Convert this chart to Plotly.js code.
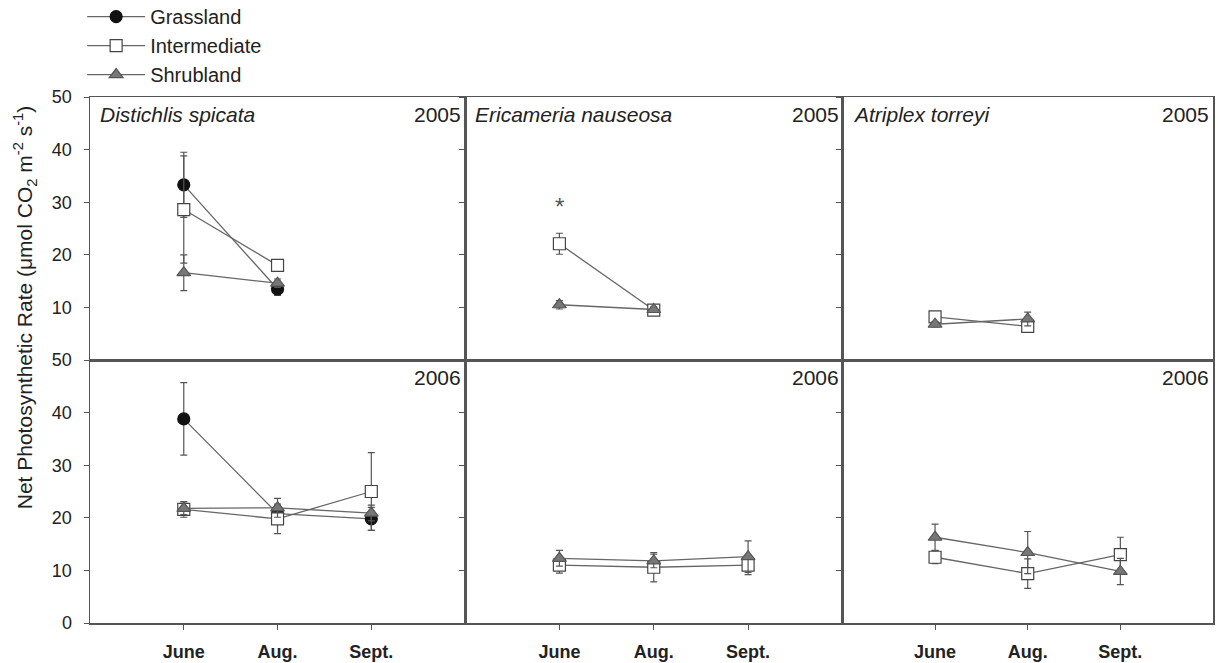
<!DOCTYPE html>
<html>
<head>
<meta charset="utf-8">
<script src="https://cdn.plot.ly/plotly-3.0.1.min.js"></script>
<style>body{margin:0;background:#fff;} #chart{width:1218px;height:663px;}</style>
</head>
<body>
<div id="chart"></div>
<script>
// ---- Data ----
const months = ['June', 'Aug.', 'Sept.'];
const groups = ['Grassland', 'Intermediate', 'Shrubland'];
const species = ['Distichlis spicata', 'Ericameria nauseosa', 'Atriplex torreyi'];
const years = ['2005', '2006'];

// 2005 (June, Aug.)
const dist05Grass = [33.3, 13.5];
const dist05GrassErr = [6.2, 1.2];
const dist05Inter = [28.6, 18.0];
const dist05InterErr = [10.2, 1.0];
const dist05Shrub = [16.6, 14.6];
const dist05ShrubErr = [3.4, 0.8];

const eric05Inter = [22.1, 9.5];
const eric05InterErr = [2.0, 0.5];
const eric05Shrub = [10.5, 9.6];
const eric05ShrubErr = [0.8, 0.5];

const atri05Inter = [8.2, 6.4];
const atri05InterErr = [0.5, 0.9];
const atri05Shrub = [6.8, 7.8];
const atri05ShrubErr = [0.5, 1.3];

// 2006 (June, Aug., Sept.)
const dist06Grass = [38.8, 20.8, 19.8];
const dist06GrassErr = [6.9, 1.5, 2.2];
const dist06Inter = [21.6, 19.8, 25.0];
const dist06InterErr = [1.5, 2.8, 7.4];
const dist06Shrub = [21.8, 21.9, 20.9];
const dist06ShrubErr = [1.2, 1.8, 1.5];

const eric06Inter = [11.0, 10.6, 11.0];
const eric06InterErr = [1.5, 2.8, 1.8];
const eric06Shrub = [12.3, 11.8, 12.6];
const eric06ShrubErr = [1.5, 1.3, 3.0];

const atri06Inter = [12.5, 9.4, 13.0];
const atri06InterErr = [1.2, 2.8, 3.3];
const atri06Shrub = [16.3, 13.4, 9.8];
const atri06ShrubErr = [2.5, 4.0, 2.5];

const asteriskY = 29.2; // significance marker, Ericameria 2005 June

// ---- Styles ----
const styles = {
  Grassland: {symbol: 'circle', color: '#111', line: '#111', size: 12},
  Intermediate: {symbol: 'square', color: '#fff', line: '#444', size: 12},
  Shrubland: {symbol: 'triangle-up', color: '#777', line: '#555', size: 12}
};

const traces = [];
const shown = {};
function addTrace(group, y, err, panel) {
  const st = styles[group];
  const showleg = !shown[group];
  shown[group] = true;
  traces.push({
    type: 'scatter', mode: 'lines+markers',
    name: group, legendgroup: group, showlegend: showleg,
    x: months.slice(0, y.length), y: y,
    xaxis: 'x' + (panel === 1 ? '' : panel), yaxis: 'y' + (panel === 1 ? '' : panel),
    line: {color: '#666', width: 1.3},
    marker: {symbol: st.symbol, color: st.color, size: st.size, line: {color: st.line, width: 1.2}},
    error_y: {type: 'data', array: err, visible: true, color: '#555', thickness: 1.2, width: 3.5}
  });
}

// Order gives legend order Grassland, Intermediate, Shrubland
addTrace('Grassland', dist05Grass, dist05GrassErr, 1);
addTrace('Intermediate', dist05Inter, dist05InterErr, 1);
addTrace('Shrubland', dist05Shrub, dist05ShrubErr, 1);
addTrace('Intermediate', eric05Inter, eric05InterErr, 2);
addTrace('Shrubland', eric05Shrub, eric05ShrubErr, 2);
addTrace('Intermediate', atri05Inter, atri05InterErr, 3);
addTrace('Shrubland', atri05Shrub, atri05ShrubErr, 3);
addTrace('Grassland', dist06Grass, dist06GrassErr, 4);
addTrace('Intermediate', dist06Inter, dist06InterErr, 4);
addTrace('Shrubland', dist06Shrub, dist06ShrubErr, 4);
addTrace('Intermediate', eric06Inter, eric06InterErr, 5);
addTrace('Shrubland', eric06Shrub, eric06ShrubErr, 5);
addTrace('Intermediate', atri06Inter, atri06InterErr, 6);
addTrace('Shrubland', atri06Shrub, atri06ShrubErr, 6);

const FONT = 'Liberation Sans, Arial, sans-serif';
const xDomains = [[0, 0.334], [0.334, 0.67], [0.67, 1]];
const layout = {
  width: 1218, height: 663,
  margin: {l: 90, r: 5, t: 97, b: 40, autoexpand: false},
  paper_bgcolor: '#fff', plot_bgcolor: '#fff',
  font: {family: FONT, color: '#222', size: 18},
  showlegend: true,
  legend: {x: -0.007, y: 1.19, xanchor: 'left', yanchor: 'top', bgcolor: 'rgba(0,0,0,0)',
           font: {family: FONT, size: 20, color: '#222'}, tracegroupgap: 0, itemwidth: 58},
  annotations: []
};

for (let p = 1; p <= 6; p++) {
  const col = (p - 1) % 3;
  const top = p <= 3;
  const xa = {
    domain: xDomains[col], anchor: 'y' + (p === 1 ? '' : p),
    type: 'category', categoryarray: months, categoryorder: 'array', range: [-1, 3],
    showline: true, mirror: true, linecolor: '#555', linewidth: 1.5,
    showgrid: false, zeroline: false,
    ticks: top ? '' : 'outside', ticklen: 5, tickcolor: '#555',
    showticklabels: !top, ticklabelstandoff: 7,
    tickfont: {family: FONT, size: 18, color: '#222', weight: 'bold'}
  };
  const ya = {
    domain: top ? [0.5, 1] : [0, 0.5], anchor: 'x' + (p === 1 ? '' : p),
    range: [0, 50], tickvals: top ? [10, 20, 30, 40, 50] : [0, 10, 20, 30, 40, 50],
    showline: true, mirror: true, linecolor: '#555', linewidth: 1.5,
    showgrid: false, zeroline: false,
    ticks: 'outside', ticklen: 5, tickcolor: '#555',
    showticklabels: col === 0, ticklabelstandoff: 8,
    tickfont: {family: FONT, size: 18, color: '#222'}
  };
  layout['xaxis' + (p === 1 ? '' : p)] = xa;
  layout['yaxis' + (p === 1 ? '' : p)] = ya;

  const xr = 'x' + (p === 1 ? '' : p) + ' domain';
  const yr = 'y' + (p === 1 ? '' : p) + ' domain';
  layout.annotations.push({
    xref: xr, yref: yr, x: 0.995, y: 0.985, xanchor: 'right', yanchor: 'top',
    text: top ? years[0] : years[1], showarrow: false,
    font: {family: FONT, size: 21, color: '#222'}
  });
  if (top) {
    layout.annotations.push({
      xref: xr, yref: yr, x: 0.022, y: 0.985, xanchor: 'left', yanchor: 'top',
      text: '<i>' + species[col] + '</i>', showarrow: false,
      font: {family: FONT, size: 21, color: '#222'}
    });
  }
}

layout.annotations.push({
  xref: 'x2', yref: 'y2', x: months[0], y: asteriskY, text: '*', showarrow: false,
  font: {family: FONT, size: 24, color: '#555'}
});

layout.annotations.push({
  xref: 'paper', yref: 'paper', x: -0.058, y: 0.6, textangle: -90,
  xanchor: 'center', yanchor: 'middle', showarrow: false,
  text: 'Net Photosynthetic Rate (\u03bcmol CO<sub>2</sub> m<sup>-2</sup> s<sup>-1</sup>)',
  font: {family: FONT, size: 21, color: '#222'}
});

Plotly.newPlot('chart', traces, layout, {displayModeBar: false, staticPlot: true});
</script>
</body>
</html>
